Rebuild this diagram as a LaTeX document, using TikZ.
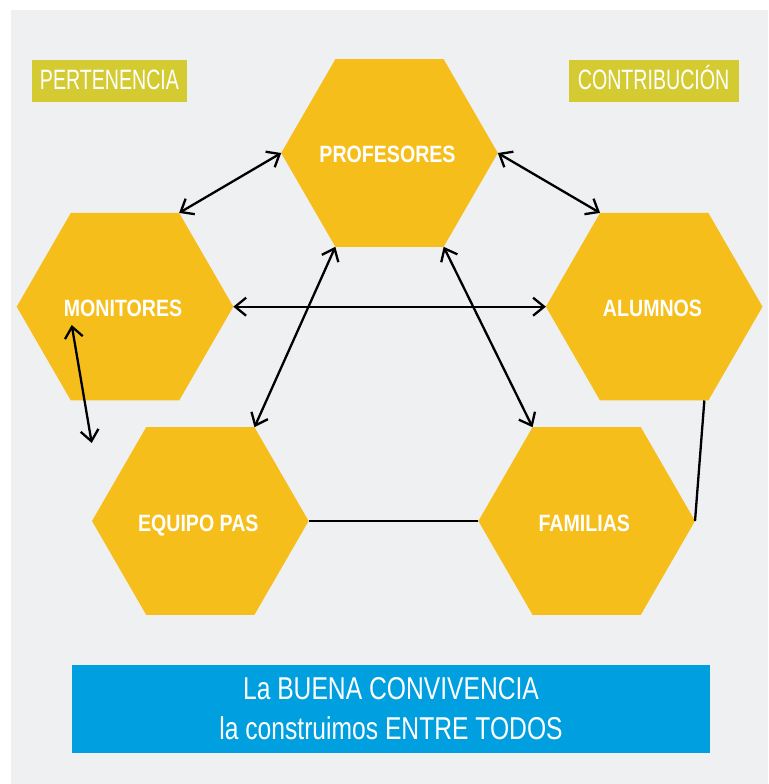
\documentclass[tikz,border=0pt]{standalone}
\usepackage{fontspec}
\setmainfont{Liberation Sans}
\newfontfamily\hexfont{Liberation Sans}[FakeStretch=0.83]
\newfontfamily\thinfont{Liberation Sans}[FakeStretch=0.70]
\newfontfamily\mottofont{Liberation Sans}[FakeStretch=0.78]
\usetikzlibrary{shapes.geometric,arrows.meta}
\definecolor{bggray}{RGB}{239,240,242}
\definecolor{hexyellow}{RGB}{246,190,26}
\definecolor{tagolive}{RGB}{212,203,51}
\definecolor{boxblue}{RGB}{0,159,223}
\begin{document}
\begin{tikzpicture}[x=1pt,y=-1pt,
  hexnode/.style={regular polygon, regular polygon sides=6, minimum size=216.6pt,
    inner sep=0pt, outer sep=0pt, fill=hexyellow},
  hextext/.style={text=white, inner sep=0pt, anchor=base,
    font=\hexfont\bfseries\fontsize{23.6}{26}\selectfont},
  tagbox/.style={fill=tagolive, text=white, inner sep=0pt, outer sep=0pt,
    minimum height=41.7pt, font=\thinfont\fontsize{28}{30}\selectfont,
    text height=16.6pt, text depth=0pt},
  mottotext/.style={text=white, inner sep=0pt, anchor=base, font=\mottofont\fontsize{31.6}{34}\selectfont},
  link/.style={draw=black, line width=2.3pt},
  both/.style={link, {Straight Barb[length=11pt,width=18pt]}-{Straight Barb[length=11pt,width=18pt]}},
]
\useasboundingbox (0,0) rectangle (768,784);
\fill[bggray] (11,10) rectangle (768,784);

% corner tags
\node[tagbox, minimum width=155pt] (pert) at (109.5,80.85) {PERTENENCIA};
\node[tagbox, minimum width=170pt] (contr) at (653.6,80.85) {CONTRIBUCIÓN};

% hexagons
\node[hexnode] (prof) at (389.5,153) {};
\node[hexnode] (mon) at (125,306.7) {};
\node[hexnode] (alu) at (654.2,306.7) {};
\node[hexnode] (equ) at (200.3,521) {};
\node[hexnode] (fam) at (586.7,521) {};
\node[hextext] (profT) at (387.5,162.7) {PROFESORES};
\node[hextext] (monT) at (123,316.7) {MONITORES};
\node[hextext] (aluT) at (652.5,316.7) {ALUMNOS};
\node[hextext] (equT) at (198.3,531) {EQUIPO PAS};
\node[hextext] (famT) at (584.3,531) {FAMILIAS};

% motto box
\node[fill=boxblue, minimum width=638pt, minimum height=88pt, inner sep=0pt, outer sep=0pt] (motto) at (391,709) {};
\node[mottotext] (m1) at (391,699.3) {La BUENA CONVIVENCIA};
\node[mottotext] (m2) at (391,739.3) {la construimos ENTRE TODOS};

% connectors
\coordinate (mtop) at (71.7,325);
\coordinate (mbot) at (91.7,443);
\draw[both] (mon.60) -- (prof.180);
\draw[both] (prof.0) -- (alu.120);
\draw[both] (mon.0) -- (alu.180);
\draw[both] (prof.240) -- (equ.60);
\draw[both] (prof.300) -- (fam.120);
\draw[both] (mtop) -- (mbot);
\draw[link] (equ.0) -- (fam.180);
\draw[link] ([xshift=-4pt]alu.300) -- (fam.0);
\end{tikzpicture}
\end{document}
